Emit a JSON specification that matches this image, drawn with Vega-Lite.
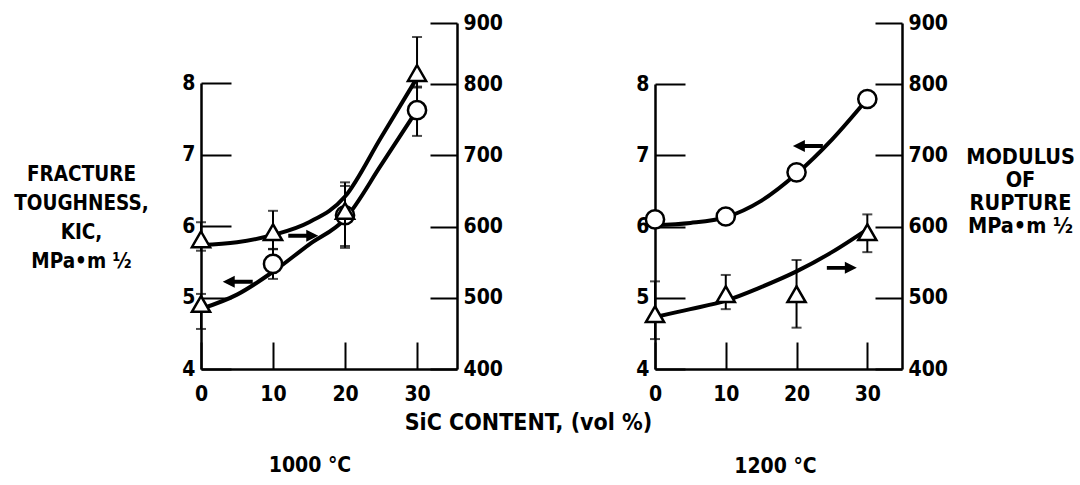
{
  "$schema": "https://vega.github.io/schema/vega-lite/v6.json",
  "background": "white",
  "padding": {"left": 13, "top": 12, "right": 0, "bottom": 0},
  "bounds": "flush",
  "spacing": 198,
  "config": {
    "aria": false,
    "view": {"stroke": null},
    "lineBreak": "\n",
    "style": {"guide-title": {"lineBreak": "\n"}},
    "font": "DejaVu Sans Condensed, sans-serif",
    "axis": {
      "grid": false,
      "domainColor": "black", "domainWidth": 2.5,
      "tickColor": "black", "tickWidth": 2,
      "labelColor": "black", "labelFont": "DejaVu Sans Condensed, sans-serif",
      "labelFontWeight": "bold", "labelFontSize": 21, "labelOverlap": false, "labelFlush": false,
      "titleColor": "black", "titleFont": "DejaVu Sans Condensed, sans-serif",
      "titleFontWeight": "bold", "titleFontSize": 21
    },
    "title": {"color": "black", "font": "DejaVu Sans Condensed, sans-serif", "fontWeight": "bold", "fontSize": 21}
  },
  "datasets": {
    "points": [
      {"temp": "1000", "series": "KIC", "sic": 0, "value": 4.91, "lo": 4.56, "hi": 5.05},
      {"temp": "1000", "series": "KIC", "sic": 10, "value": 5.47, "lo": 5.26, "hi": 5.68},
      {"temp": "1000", "series": "KIC", "sic": 20, "value": 6.15, "lo": 5.72, "hi": 6.56},
      {"temp": "1000", "series": "KIC", "sic": 30, "value": 7.62, "lo": 7.26, "hi": 7.95},
      {"temp": "1000", "series": "MOR", "sic": 0, "value": 582, "lo": 566, "hi": 606},
      {"temp": "1000", "series": "MOR", "sic": 10, "value": 592, "lo": 568, "hi": 622},
      {"temp": "1000", "series": "MOR", "sic": 20, "value": 622, "lo": 570, "hi": 662},
      {"temp": "1000", "series": "MOR", "sic": 30, "value": 818, "lo": 795, "hi": 877},
      {"temp": "1200", "series": "KIC", "sic": 0, "value": 6.10},
      {"temp": "1200", "series": "KIC", "sic": 10, "value": 6.14},
      {"temp": "1200", "series": "KIC", "sic": 20, "value": 6.76},
      {"temp": "1200", "series": "KIC", "sic": 30, "value": 7.79},
      {"temp": "1200", "series": "MOR", "sic": 0, "value": 477, "lo": 442, "hi": 523},
      {"temp": "1200", "series": "MOR", "sic": 10, "value": 505, "lo": 484, "hi": 532},
      {"temp": "1200", "series": "MOR", "sic": 20, "value": 505, "lo": 458, "hi": 553},
      {"temp": "1200", "series": "MOR", "sic": 30, "value": 592, "lo": 564, "hi": 617}
    ],
    "curves": [
      {"temp": "1000", "series": "KIC", "sic": 0, "value": 4.84},
      {"temp": "1000", "series": "KIC", "sic": 5, "value": 5.04},
      {"temp": "1000", "series": "KIC", "sic": 10, "value": 5.36},
      {"temp": "1000", "series": "KIC", "sic": 15, "value": 5.74},
      {"temp": "1000", "series": "KIC", "sic": 20, "value": 6.1},
      {"temp": "1000", "series": "KIC", "sic": 25, "value": 6.85},
      {"temp": "1000", "series": "KIC", "sic": 30, "value": 7.62},
      {"temp": "1000", "series": "MOR", "sic": 0, "value": 574},
      {"temp": "1000", "series": "MOR", "sic": 5, "value": 578},
      {"temp": "1000", "series": "MOR", "sic": 10, "value": 588},
      {"temp": "1000", "series": "MOR", "sic": 15, "value": 606},
      {"temp": "1000", "series": "MOR", "sic": 20, "value": 642},
      {"temp": "1000", "series": "MOR", "sic": 25, "value": 725},
      {"temp": "1000", "series": "MOR", "sic": 30, "value": 810},
      {"temp": "1200", "series": "KIC", "sic": 0, "value": 6.02},
      {"temp": "1200", "series": "KIC", "sic": 5, "value": 6.05},
      {"temp": "1200", "series": "KIC", "sic": 10, "value": 6.13},
      {"temp": "1200", "series": "KIC", "sic": 15, "value": 6.36},
      {"temp": "1200", "series": "KIC", "sic": 20, "value": 6.74},
      {"temp": "1200", "series": "KIC", "sic": 25, "value": 7.22},
      {"temp": "1200", "series": "KIC", "sic": 30, "value": 7.79},
      {"temp": "1200", "series": "MOR", "sic": 0, "value": 473},
      {"temp": "1200", "series": "MOR", "sic": 5, "value": 484},
      {"temp": "1200", "series": "MOR", "sic": 10, "value": 496},
      {"temp": "1200", "series": "MOR", "sic": 15, "value": 515},
      {"temp": "1200", "series": "MOR", "sic": 20, "value": 537},
      {"temp": "1200", "series": "MOR", "sic": 25, "value": 564},
      {"temp": "1200", "series": "MOR", "sic": 30, "value": 596}
    ],
    "arrows": [
      {"temp": "1000", "series": "KIC", "sic": 5.1, "value": 5.22},
      {"temp": "1000", "series": "MOR", "sic": 14.2, "value": 587},
      {"temp": "1200", "series": "KIC", "sic": 21.6, "value": 7.13},
      {"temp": "1200", "series": "MOR", "sic": 26.4, "value": 542}
    ]
  },
  "hconcat": [
    {
      "width": 256,
      "height": 346,
      "title": {"text": "1000 °C", "orient": "bottom", "frame": "group", "offset": 32, "baseline": "middle", "anchor": "middle", "dx": -19},
      "resolve": {"scale": {"y": "independent"}, "axis": {"y": "independent"}},
      "layer": [
        {
          "layer": [
            {
              "data": {"name": "curves"},
              "transform": [{"filter": "datum.temp === '1000' && datum.series === 'KIC'"}],
              "mark": {"type": "line", "interpolate": "monotone", "color": "black", "strokeWidth": 4},
              "encoding": {
                "x": {"field": "sic", "type": "quantitative", "scale": {"domain": [0, 35.55], "nice": false, "zero": false},
                      "axis": {"values": [0, 10, 20, 30], "format": "d", "tickSize": -27, "labelPadding": 41, "title": "SiC CONTENT, (vol %)", "titleX": 327, "titleY": 53, "titleAlign": "center", "titleBaseline": "middle", "titleFontSize": 23}},
                "y": {"field": "value", "type": "quantitative", "scale": {"domain": [4, 8], "range": [346, 60], "nice": false, "zero": false},
                      "axis": {"orient": "left", "values": [4, 5, 6, 7, 8], "format": "d", "tickSize": -30, "labelPadding": 36,
                               "title": "FRACTURE\nTOUGHNESS,\nKIC,\nMPa•m ½", "titleAngle": 0, "titleX": -120, "titleY": 151, "titleAlign": "center", "titleBaseline": "middle", "titleLineHeight": 29, "titleFontSize": 20.5}}
              }
            },
            {
              "data": {"name": "points"},
              "transform": [{"filter": "datum.temp === '1000' && datum.series === 'KIC' && datum.lo != null"}],
              "mark": {"type": "rule", "color": "black", "strokeWidth": 2},
              "encoding": {
                "x": {"field": "sic", "type": "quantitative"},
                "y": {"field": "lo", "type": "quantitative", "axis": {"title": "FRACTURE\nTOUGHNESS,\nKIC,\nMPa•m ½"}},
                "y2": {"field": "hi"}
              }
            },
            {
              "data": {"name": "points"},
              "transform": [{"filter": "datum.temp === '1000' && datum.series === 'KIC' && datum.lo != null"}, {"fold": ["lo", "hi"], "as": ["end", "bound"]}],
              "mark": {"type": "tick", "orient": "horizontal", "color": "black", "size": 10, "thickness": 2},
              "encoding": {
                "x": {"field": "sic", "type": "quantitative"},
                "y": {"field": "bound", "type": "quantitative", "axis": {"title": "FRACTURE\nTOUGHNESS,\nKIC,\nMPa•m ½"}}
              }
            },
            {
              "data": {"name": "points"},
              "transform": [{"filter": "datum.temp === '1000' && datum.series === 'KIC'"}],
              "mark": {"type": "point", "filled": true, "fill": "white", "stroke": "black", "strokeWidth": 2.5, "size": 330, "opacity": 1},
              "encoding": {
                "x": {"field": "sic", "type": "quantitative"},
                "y": {"field": "value", "type": "quantitative"},
                "shape": {"condition": {"test": "datum.sic === 0", "value": "triangle-up"}, "value": "circle"}
              }
            },
            {
              "data": {"name": "arrows"},
              "transform": [{"filter": "datum.temp === '1000' && datum.series === 'KIC'"}],
              "mark": {"type": "point", "filled": true, "color": "black", "opacity": 1, "size": 900,
                       "shape": "M -1 0 L -0.2 -0.4 L -0.2 -0.13 L 1 -0.13 L 1 0.13 L -0.2 0.13 L -0.2 0.4 Z"},
              "encoding": {
                "x": {"field": "sic", "type": "quantitative"},
                "y": {"field": "value", "type": "quantitative"}
              }
            }
          ]
        },
        {
          "layer": [
            {
              "data": {"name": "curves"},
              "transform": [{"filter": "datum.temp === '1000' && datum.series === 'MOR'"}],
              "mark": {"type": "line", "interpolate": "monotone", "color": "black", "strokeWidth": 4},
              "encoding": {
                "x": {"field": "sic", "type": "quantitative"},
                "y": {"field": "value", "type": "quantitative", "scale": {"domain": [400, 800, 900], "range": [346, 61, 0], "nice": false, "zero": false},
                      "axis": {"orient": "right", "values": [400, 500, 600, 700, 800, 900], "format": "d", "tickSize": -27, "labelPadding": 33, "title": null}}
              }
            },
            {
              "data": {"name": "points"},
              "transform": [{"filter": "datum.temp === '1000' && datum.series === 'MOR' && datum.lo != null"}],
              "mark": {"type": "rule", "color": "black", "strokeWidth": 2},
              "encoding": {
                "x": {"field": "sic", "type": "quantitative"},
                "y": {"field": "lo", "type": "quantitative", "axis": {"title": null}},
                "y2": {"field": "hi"}
              }
            },
            {
              "data": {"name": "points"},
              "transform": [{"filter": "datum.temp === '1000' && datum.series === 'MOR' && datum.lo != null"}, {"fold": ["lo", "hi"], "as": ["end", "bound"]}],
              "mark": {"type": "tick", "orient": "horizontal", "color": "black", "size": 10, "thickness": 2},
              "encoding": {
                "x": {"field": "sic", "type": "quantitative"},
                "y": {"field": "bound", "type": "quantitative", "axis": {"title": null}}
              }
            },
            {
              "data": {"name": "points"},
              "transform": [{"filter": "datum.temp === '1000' && datum.series === 'MOR'"}],
              "mark": {"type": "point", "shape": "triangle-up", "filled": true, "fill": "white", "stroke": "black", "strokeWidth": 2.5, "size": 330, "opacity": 1},
              "encoding": {
                "x": {"field": "sic", "type": "quantitative"},
                "y": {"field": "value", "type": "quantitative"}
              }
            },
            {
              "data": {"name": "arrows"},
              "transform": [{"filter": "datum.temp === '1000' && datum.series === 'MOR'"}],
              "mark": {"type": "point", "filled": true, "color": "black", "opacity": 1, "size": 900,
                       "shape": "M 1 0 L 0.2 -0.4 L 0.2 -0.13 L -1 -0.13 L -1 0.13 L 0.2 0.13 L 0.2 0.4 Z"},
              "encoding": {
                "x": {"field": "sic", "type": "quantitative"},
                "y": {"field": "value", "type": "quantitative"}
              }
            }
          ]
        }
      ]
    },
    {
      "width": 247,
      "height": 346,
      "title": {"text": "1200 °C", "orient": "bottom", "frame": "group", "offset": 63, "baseline": "middle", "anchor": "middle", "dx": -3},
      "resolve": {"scale": {"y": "independent"}, "axis": {"y": "independent"}},
      "layer": [
        {
          "layer": [
            {
              "data": {"name": "curves"},
              "transform": [{"filter": "datum.temp === '1200' && datum.series === 'KIC'"}],
              "mark": {"type": "line", "interpolate": "monotone", "color": "black", "strokeWidth": 4},
              "encoding": {
                "x": {"field": "sic", "type": "quantitative", "scale": {"domain": [0, 34.9], "nice": false, "zero": false},
                      "axis": {"values": [0, 10, 20, 30], "format": "d", "tickSize": -27, "labelPadding": 41, "title": null}},
                "y": {"field": "value", "type": "quantitative", "scale": {"domain": [4, 8], "range": [346, 61], "nice": false, "zero": false},
                      "axis": {"orient": "left", "values": [4, 5, 6, 7, 8], "format": "d", "tickSize": -30, "labelPadding": 36, "title": null}}
              }
            },
            {
              "data": {"name": "points"},
              "transform": [{"filter": "datum.temp === '1200' && datum.series === 'KIC'"}],
              "mark": {"type": "point", "shape": "circle", "filled": true, "fill": "white", "stroke": "black", "strokeWidth": 2.5, "size": 330, "opacity": 1},
              "encoding": {
                "x": {"field": "sic", "type": "quantitative"},
                "y": {"field": "value", "type": "quantitative"}
              }
            },
            {
              "data": {"name": "arrows"},
              "transform": [{"filter": "datum.temp === '1200' && datum.series === 'KIC'"}],
              "mark": {"type": "point", "filled": true, "color": "black", "opacity": 1, "size": 900,
                       "shape": "M -1 0 L -0.2 -0.4 L -0.2 -0.13 L 1 -0.13 L 1 0.13 L -0.2 0.13 L -0.2 0.4 Z"},
              "encoding": {
                "x": {"field": "sic", "type": "quantitative"},
                "y": {"field": "value", "type": "quantitative"}
              }
            }
          ]
        },
        {
          "layer": [
            {
              "data": {"name": "curves"},
              "transform": [{"filter": "datum.temp === '1200' && datum.series === 'MOR'"}],
              "mark": {"type": "line", "interpolate": "monotone", "color": "black", "strokeWidth": 4},
              "encoding": {
                "x": {"field": "sic", "type": "quantitative"},
                "y": {"field": "value", "type": "quantitative", "scale": {"domain": [400, 800, 900], "range": [346, 61, 0], "nice": false, "zero": false},
                      "axis": {"orient": "right", "values": [400, 500, 600, 700, 800, 900], "format": "d", "tickSize": -27, "labelPadding": 33,
                               "title": "MODULUS\nOF\nRUPTURE\nMPa•m ½", "titleAngle": 0, "titleX": 118, "titleY": 134, "titleAlign": "center", "titleBaseline": "middle", "titleLineHeight": 23, "titleFontSize": 21.5}}
              }
            },
            {
              "data": {"name": "points"},
              "transform": [{"filter": "datum.temp === '1200' && datum.series === 'MOR' && datum.lo != null"}],
              "mark": {"type": "rule", "color": "black", "strokeWidth": 2},
              "encoding": {
                "x": {"field": "sic", "type": "quantitative"},
                "y": {"field": "lo", "type": "quantitative", "axis": {"title": "MODULUS\nOF\nRUPTURE\nMPa•m ½"}},
                "y2": {"field": "hi"}
              }
            },
            {
              "data": {"name": "points"},
              "transform": [{"filter": "datum.temp === '1200' && datum.series === 'MOR' && datum.lo != null"}, {"fold": ["lo", "hi"], "as": ["end", "bound"]}],
              "mark": {"type": "tick", "orient": "horizontal", "color": "black", "size": 10, "thickness": 2},
              "encoding": {
                "x": {"field": "sic", "type": "quantitative"},
                "y": {"field": "bound", "type": "quantitative", "axis": {"title": "MODULUS\nOF\nRUPTURE\nMPa•m ½"}}
              }
            },
            {
              "data": {"name": "points"},
              "transform": [{"filter": "datum.temp === '1200' && datum.series === 'MOR'"}],
              "mark": {"type": "point", "shape": "triangle-up", "filled": true, "fill": "white", "stroke": "black", "strokeWidth": 2.5, "size": 330, "opacity": 1},
              "encoding": {
                "x": {"field": "sic", "type": "quantitative"},
                "y": {"field": "value", "type": "quantitative"}
              }
            },
            {
              "data": {"name": "arrows"},
              "transform": [{"filter": "datum.temp === '1200' && datum.series === 'MOR'"}],
              "mark": {"type": "point", "filled": true, "color": "black", "opacity": 1, "size": 900,
                       "shape": "M 1 0 L 0.2 -0.4 L 0.2 -0.13 L -1 -0.13 L -1 0.13 L 0.2 0.13 L 0.2 0.4 Z"},
              "encoding": {
                "x": {"field": "sic", "type": "quantitative"},
                "y": {"field": "value", "type": "quantitative"}
              }
            }
          ]
        }
      ]
    }
  ]
}
